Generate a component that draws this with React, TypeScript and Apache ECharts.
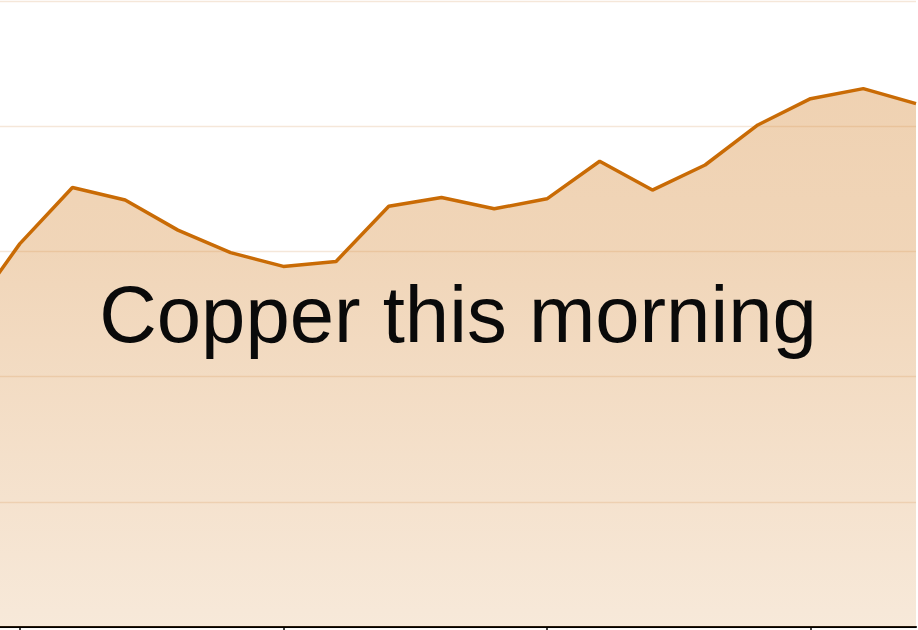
import React, { useEffect, useRef } from "react";
import * as echarts from "echarts";

const categories = ["0", "1", "2", "3", "4", "5", "6", "7", "8", "9", "10", "11", "12", "13", "14", "15", "16", "17", "18"];
const copperValues = [2.47, 3.06, 3.51, 3.41, 3.17, 2.99, 2.88, 2.92, 3.36, 3.43, 3.34, 3.42, 3.72, 3.49, 3.69, 4.01, 4.22, 4.3, 4.18];
const titleText = "Copper this morning";
const tickIndices = [1, 6, 11, 16];

const SHIFT = 33;

export default function App() {
  const ref = useRef<HTMLDivElement>(null);
  useEffect(() => {
    if (!ref.current) return;
    const chart = echarts.init(ref.current, undefined, { renderer: "svg" });
    chart.setOption({
      animation: false,
      backgroundColor: "#ffffff",
      grid: { left: 0, right: 2, top: 1, bottom: 3, containLabel: false },
      xAxis: {
        type: "category",
        data: categories,
        boundaryGap: false,
        axisLine: { show: true, lineStyle: { color: "#000000", width: 2 } },
        axisTick: {
          show: true,
          length: 6,
          interval: (i: number) => tickIndices.includes(i),
          lineStyle: { color: "#000000", width: 1.5 },
        },
        axisLabel: { show: false },
        splitLine: { show: false },
      },
      yAxis: {
        type: "value",
        min: 0,
        max: 5,
        interval: 1,
        axisLine: { show: false },
        axisTick: { show: false },
        axisLabel: { show: false },
        splitLine: { show: true, lineStyle: { color: "#f5e7d9", width: 1.3 } },
      },
      series: [
        {
          type: "line",
          data: copperValues,
          symbol: "none",
          clip: false,
          lineStyle: { color: "#c96b05", width: 3.5 },
          areaStyle: {
            opacity: 1,
            color: new echarts.graphic.LinearGradient(0, 0, 0, 1, [
              { offset: 0, color: "rgba(212,132,46,0.37)" },
              { offset: 0.3, color: "rgba(212,132,46,0.34)" },
              { offset: 1, color: "rgba(212,132,46,0.18)" },
            ]),
          },
        },
      ],
      graphic: [
        {
          type: "text",
          x: 458 + SHIFT,
          y: 274,
          style: {
            text: titleText,
            fontSize: 79.7,
            fontFamily: "'Liberation Sans', Arial, sans-serif",
            fill: "#0a0a0a",
            textAlign: "center",
            textVerticalAlign: "top",
          },
          z: 100,
        },
      ],
    });
    return () => chart.dispose();
  }, []);
  return (
    <div style={{ position: "fixed", left: 0, top: 0, width: 918, height: 630, overflow: "hidden" }}>
      <div ref={ref} style={{ width: 918 + SHIFT, height: 630, position: "absolute", left: -SHIFT, top: 0 }} />
    </div>
  );
}
